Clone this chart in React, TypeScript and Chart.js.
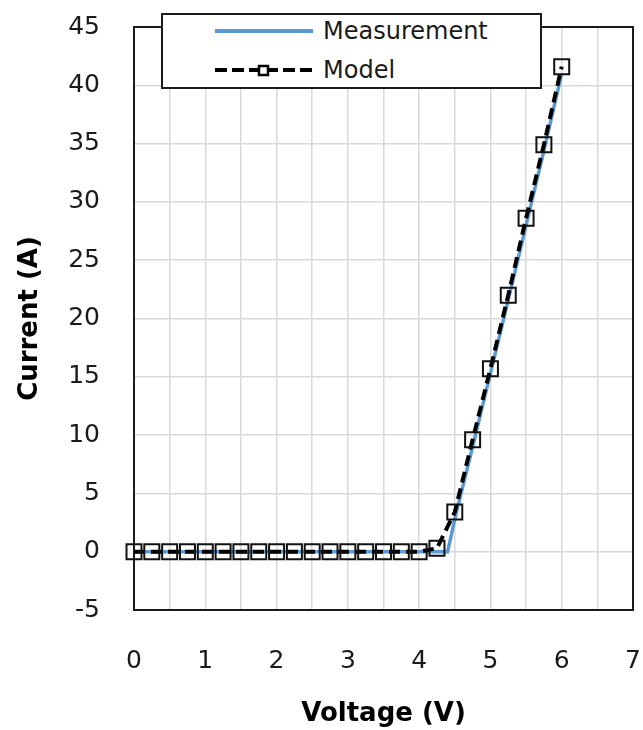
import React, { useEffect, useRef } from "react";
import { Chart, registerables } from "chart.js";

Chart.register(...registerables);

// ---- data ----
const measurementVoltage = [0, 0.5, 1, 1.5, 2, 2.5, 3, 3.5, 4, 4.4, 4.5, 4.75, 5, 5.25, 5.5, 5.75, 6];
const measurementCurrent = [0, 0, 0, 0, 0, 0, 0, 0, 0, 0, 2.8, 9.0, 15.3, 21.6, 28.0, 34.4, 41.0];

const modelVoltage = [0, 0.25, 0.5, 0.75, 1, 1.25, 1.5, 1.75, 2, 2.25, 2.5, 2.75, 3, 3.25, 3.5, 3.75, 4, 4.25, 4.5, 4.75, 5, 5.25, 5.5, 5.75, 6];
const modelCurrent = [0, 0, 0, 0, 0, 0, 0, 0, 0, 0, 0, 0, 0, 0, 0, 0, 0, 0.3, 3.4, 9.6, 15.7, 22.0, 28.6, 34.9, 41.6];

const xTickLabels = ["0", "1", "2", "3", "4", "5", "6", "7"];
const yTickLabels = ["-5", "0", "5", "10", "15", "20", "25", "30", "35", "40", "45"];

const seriesNames = ["Measurement", "Model"];
const xTitle = "Voltage (V)";
const yTitle = "Current (A)";

const FONT = "'DejaVu Sans', Verdana, sans-serif";
const TEXT = "#1a1a1a";
const BLUE = "#5b9bd5";
const GRID = "#d9d9d9";

const framePlugin = {
  id: "frame",
  beforeDatasetsDraw(chart: any) {
    const { ctx, chartArea } = chart;
    ctx.save();
    ctx.strokeStyle = "#1a1a1a";
    ctx.lineWidth = 2;
    ctx.strokeRect(chartArea.left, chartArea.top, chartArea.right - chartArea.left, chartArea.bottom - chartArea.top);
    ctx.restore();
  },
};

export default function App() {
  const canvasRef = useRef<HTMLCanvasElement | null>(null);

  useEffect(() => {
    const canvas = canvasRef.current;
    if (!canvas) return;
    const chart = new Chart(canvas, {
      type: "line",
      data: {
        datasets: [
          {
            label: seriesNames[0],
            data: measurementVoltage.map((v, i) => ({ x: v, y: measurementCurrent[i] })),
            borderColor: BLUE,
            borderWidth: 3.5,
            pointRadius: 0,
            tension: 0,
            fill: false,
            order: 2,
            clip: false,
          },
          {
            label: seriesNames[1],
            data: modelVoltage.map((v, i) => ({ x: v, y: modelCurrent[i] })),
            borderColor: "#000",
            borderWidth: 4,
            borderDash: [11, 6],
            pointStyle: "rect",
            pointRadius: 10.6,
            pointBorderWidth: 2,
            pointBorderColor: "#111",
            pointBackgroundColor: "rgba(0,0,0,0)",
            tension: 0,
            fill: false,
            order: 1,
            clip: false,
          },
        ],
      },
      options: {
        animation: false,
        responsive: false,
        devicePixelRatio: 1,
        layout: { autoPadding: false, padding: { left: 0, right: 10, top: 27, bottom: 0 } },
        plugins: { legend: { display: false }, tooltip: { enabled: false } },
        scales: {
          x: {
            type: "linear",
            min: 0,
            max: 7,
            ticks: {
              stepSize: 0.5,
              autoSkip: false,
              maxRotation: 0,
              padding: 36,
              color: TEXT,
              font: { family: FONT, size: 25 },
              callback: (v: any) => {
                const s = String(v);
                return xTickLabels.includes(s) ? s : "";
              },
            },
            grid: { color: GRID, lineWidth: 1.5, drawTicks: false },
            border: { display: false },
            title: {
              display: true,
              text: xTitle,
              color: "#000",
              font: { family: FONT, size: 26, weight: "bold" },
              padding: { top: 0, bottom: 0 },
            },
            afterFit: (s: any) => {
              s.height = 120;
              s.paddingLeft = 0;
              s.paddingRight = 0;
            },
          },
          y: {
            type: "linear",
            min: -5,
            max: 45,
            ticks: {
              stepSize: 5,
              padding: 34,
              color: TEXT,
              font: { family: FONT, size: 25 },
              callback: (v: any) => {
                const s = String(v);
                return yTickLabels.includes(s) ? s : "";
              },
            },
            grid: { color: GRID, lineWidth: 1.5, drawTicks: false },
            border: { display: false },
            title: {
              display: true,
              text: yTitle,
              color: "#000",
              font: { family: FONT, size: 26, weight: "bold" },
              padding: { top: 15, bottom: 0 },
            },
            afterFit: (s: any) => {
              s.width = 134;
              s.paddingTop = 0;
              s.paddingBottom = 0;
            },
          },
        },
      } as any,
      plugins: [framePlugin],
    });
    return () => chart.destroy();
  }, []);

  return (
    <div style={{ position: "fixed", left: 0, top: 0, width: 643, height: 730, background: "#fff" }}>
      <canvas ref={canvasRef} width={643} height={730} style={{ position: "absolute", left: 0, top: 0, width: 643, height: 730 }} />
      <div
        style={{
          position: "absolute",
          left: 161,
          top: 13,
          width: 381,
          height: 76,
          boxSizing: "border-box",
          border: "2px solid #1a1a1a",
          background: "#fff",
        }}
      />
      <svg width={643} height={100} style={{ position: "absolute", left: 0, top: 0 }}>
        <line x1={215} y1={31} x2={313} y2={31} stroke={BLUE} strokeWidth={4} />
        <line x1={215} y1={70} x2={313} y2={70} stroke="#000" strokeWidth={4} strokeDasharray="12 5" />
        <rect x={259} y={66} width={9} height={9} fill="#fff" stroke="#000" strokeWidth={2.5} />
      </svg>
      <span
        style={{ position: "absolute", left: 323, top: 16, fontFamily: FONT, fontSize: 24, lineHeight: "30px", color: TEXT, whiteSpace: "nowrap" }}
      >
        {seriesNames[0]}
      </span>
      <span
        style={{ position: "absolute", left: 323, top: 55, fontFamily: FONT, fontSize: 24, lineHeight: "30px", color: TEXT, whiteSpace: "nowrap" }}
      >
        {seriesNames[1]}
      </span>
    </div>
  );
}
